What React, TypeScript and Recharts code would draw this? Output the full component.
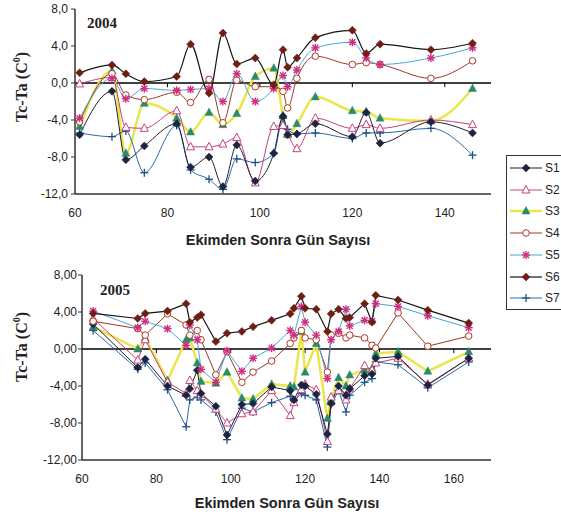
import { LineChart, Line, XAxis, YAxis, ReferenceLine } from 'recharts';

// 2004 season
const DAYS_2004 = [61, 68, 71, 75, 82, 85, 89, 92, 95, 99, 103, 105, 106, 108, 112, 120, 123, 126, 137, 146];
const S1_2004 = [-5.6, -0.9, -8.3, -6.8, -4.4, -9.1, -8.0, -11.2, -6.7, -10.6, -7.6, -3.6, -5.6, -5.5, -4.4, -5.8, -3.2, -6.5, -4.2, -5.4];
const S2_2004 = [-0.1, 0.6, -4.8, -4.9, -3.0, -6.9, -6.9, -6.6, -5.9, -10.8, -4.7, -4.6, -5.5, -7.1, -3.8, -4.9, -4.5, -4.9, -4.0, -4.5];
const S3_2004 = [-4.7, 1.3, -7.6, -2.2, -3.8, -5.3, -3.2, -4.5, -3.3, 0.7, 1.6, -3.5, -5.6, -4.4, -1.5, -3.0, -3.1, -3.8, -4.1, -0.6];
const S4_2004 = [-4.2, 1.0, -1.3, -1.8, -1.0, -2.1, 0.4, -4.3, 0.3, -0.4, -0.4, -0.9, -2.7, 0.5, 2.9, 2.0, 2.2, 2.0, 0.5, 2.4];
const S5_2004 = [-3.8, 0.5, -1.7, -0.6, -0.8, -0.7, -0.6, -2.0, 1.0, -2.0, -0.6, 0.8, -0.4, 1.4, 3.8, 4.4, 2.7, 2.0, 2.7, 3.8];
const S6_2004 = [1.1, 1.95, 1.0, 0.15, 0.7, 4.2, -1.1, 5.4, 2.05, 2.7, -0.2, 3.6, 1.7, 2.7, 4.9, 5.7, 3.2, 4.2, 3.6, 4.3];
const S7_2004 = [-5.4, -5.8, -5.2, -9.7, -4.6, -9.4, -10.4, -11.5, -8.2, -8.6, -7.6, -3.8, -5.0, -5.5, -5.4, -6.0, -5.4, -5.4, -4.9, -7.8];

// 2005 season
const DAYS_2005 = [63, 75, 77, 83, 88, 89, 91, 92, 96, 99, 103, 106, 111, 116, 117, 119, 120, 123, 126, 127, 129, 131, 132, 136, 138, 139, 145, 153, 164];
const S1_2005 = [2.7, -2.0, -1.1, -4.0, -5.0, -4.3, -2.3, -4.8, -6.2, -9.3, -6.0, -5.9, -4.1, -4.5, -5.5, -3.9, -4.0, -4.9, -9.2, -5.9, -4.0, -5.0, -4.3, -2.9, -2.7, -1.0, -0.8, -3.9, -1.0];
const S2_2005 = [3.3, -1.2, 1.0, -3.6, -4.8, -3.4, -4.5, -4.9, -6.5, -8.0, -7.0, -6.8, -4.5, -7.2, -5.8, -4.4, -3.8, -4.4, -10.0, -5.2, -4.5, -5.5, -4.3, -1.8, -2.3, -1.5, -1.0, -3.8, -1.0];
const S3_2005 = [2.4, 0.0, 1.2, -3.4, 1.0, 1.2, -1.5, -3.5, -3.7, -2.5, -5.3, -5.4, -3.8, -4.0, -4.1, 1.9, -2.5, 0.6, -7.5, -5.5, -3.1, -4.0, -2.8, -2.3, -2.1, -0.5, -0.3, -2.4, -0.3];
const S4_2005 = [3.0, 2.2, 1.5, 3.8, 2.6, 1.5, 2.0, 1.0, -2.8, -0.3, -3.6, -2.5, -1.3, 0.6, 1.2, 2.0, 1.2, 1.0, -2.5, 1.5, 1.7, 1.2, 1.5, 1.2, 0.4, 0.1, 3.9, 0.3, 1.4];
const S5_2005 = [4.1, 2.3, 3.0, 2.2, 0.4, 2.6, 1.0, -2.2, -3.6, -0.2, -2.4, -1.0, 0.1, 2.0, 1.5, 4.6, 2.9, 1.5, -3.2, 1.0, 1.9, 4.3, 2.5, 3.1, 3.0, 4.9, 4.6, 3.6, 2.3];
const S6_2005 = [3.85, 3.3, 3.85, 4.1, 4.9, 2.9, 3.4, 3.7, 0.8, 1.7, 1.9, 2.4, 3.1, 3.8, 4.4, 5.7, 4.4, 4.3, 1.9, 3.8, 4.3, 3.3, 3.4, 4.9, 2.9, 5.8, 5.3, 4.2, 2.8];
const S7_2005 = [2.0, -2.2, -1.5, -4.4, -8.4, -5.5, -5.2, -5.5, -6.8, -9.8, -6.4, -6.8, -5.8, -5.1, -5.6, -4.8, -5.0, -5.5, -10.6, -6.0, -4.5, -6.8, -5.0, -3.6, -3.2, -1.4, -1.7, -4.2, -1.4];

const Y_TICKS = [-12, -8, -4, 0, 4, 8];
const X_TICKS_2004 = [60, 80, 100, 120, 140];
const X_TICKS_2005 = [60, 80, 100, 120, 140, 160];

type Shape = 'diamond' | 'triangleOpen' | 'triangle' | 'circleOpen' | 'star' | 'plus';

const STYLES: { key: string; line: string; width: number; shape: Shape; mark: string }[] = [
  { key: 'S3', line: '#e8e64a', width: 2.5, shape: 'triangle', mark: '#2a8a6a' },
  { key: 'S7', line: '#2a6aa8', width: 1, shape: 'plus', mark: '#1f4f8a' },
  { key: 'S2', line: '#c8407a', width: 1, shape: 'triangleOpen', mark: '#c8407a' },
  { key: 'S1', line: '#1e1e2e', width: 1, shape: 'diamond', mark: '#1d2440' },
  { key: 'S4', line: '#9a3a22', width: 1, shape: 'circleOpen', mark: '#b03a24' },
  { key: 'S5', line: '#4aa6d8', width: 1, shape: 'star', mark: '#d02a80' },
  { key: 'S6', line: '#151515', width: 1.2, shape: 'diamond', mark: '#6e1e12' },
];

const LEGEND_ORDER = ['S1', 'S2', 'S3', 'S4', 'S5', 'S6', 'S7'];

function Marker({ shape, x, y, color }: { shape: Shape; x: number; y: number; color: string }) {
  switch (shape) {
    case 'diamond':
      return <polygon points={`${x},${y - 4} ${x + 4},${y} ${x},${y + 4} ${x - 4},${y}`} fill={color} stroke={color} strokeWidth={0.5} />;
    case 'triangle':
      return <polygon points={`${x},${y - 4.5} ${x + 4},${y + 3} ${x - 4},${y + 3}`} fill={color} stroke={color} strokeWidth={0.5} />;
    case 'triangleOpen':
      return <polygon points={`${x},${y - 4.5} ${x + 4},${y + 3} ${x - 4},${y + 3}`} fill="#fff" stroke={color} strokeWidth={1} />;
    case 'circleOpen':
      return <circle cx={x} cy={y} r={3.3} fill="#fff" stroke={color} strokeWidth={1} />;
    case 'star':
      return (
        <g stroke={color} strokeWidth={1.4}>
          <line x1={x - 4} y1={y} x2={x + 4} y2={y} />
          <line x1={x} y1={y - 4} x2={x} y2={y + 4} />
          <line x1={x - 3} y1={y - 3} x2={x + 3} y2={y + 3} />
          <line x1={x - 3} y1={y + 3} x2={x + 3} y2={y - 3} />
        </g>
      );
    default:
      return (
        <g stroke={color} strokeWidth={1.3}>
          <line x1={x - 4} y1={y} x2={x + 4} y2={y} />
          <line x1={x} y1={y - 4} x2={x} y2={y + 4} />
        </g>
      );
  }
}

function makeDot(shape: Shape, color: string) {
  return (p: any) => {
    if (p.cx == null || p.cy == null || p.value == null) return <g key={`d${p.index}`} />;
    return (
      <g key={`d${p.index}`}>
        <Marker shape={shape} x={p.cx} y={p.cy} color={color} />
      </g>
    );
  };
}

interface PanelProps {
  days: number[];
  series: Record<string, number[]>;
  domain: [number, number];
  ticks: number[];
  decimals: number;
  yWidth: number;
  tickMargin: number;
  curve: 'monotone' | 'linear';
}

function Panel({ days, series, domain, ticks, decimals, yWidth, tickMargin, curve }: PanelProps) {
  const data = days.map((day, i) => {
    const row: Record<string, number> = { day };
    Object.keys(series).forEach((k) => {
      row[k] = series[k][i];
    });
    return row;
  });
  const tickFont = { fontSize: 12, fill: '#222', fontFamily: 'Liberation Sans, Arial, sans-serif' };

  return (
    <LineChart width={500} height={230} data={data} margin={{ top: 9, right: 9, bottom: 6, left: 0 }}>
      <XAxis
        dataKey="day"
        type="number"
        domain={domain}
        ticks={ticks}
        allowDataOverflow
        tickLine={false}
        tickMargin={8}
        axisLine={{ stroke: '#333', strokeWidth: 1.5 }}
        tick={tickFont}
        height={30}
      />
      <XAxis xAxisId="top" orientation="top" dataKey="day" type="number" domain={domain} height={0} tick={false} tickLine={false} axisLine={{ stroke: '#333', strokeWidth: 1.5 }} />
      <YAxis
        domain={[-12, 8]}
        ticks={Y_TICKS}
        allowDataOverflow
        width={yWidth}
        tickSize={4}
        tickMargin={tickMargin}
        tickLine={{ stroke: '#333' }}
        axisLine={{ stroke: '#333', strokeWidth: 1.5 }}
        tick={tickFont}
        tickFormatter={(v: number) => v.toFixed(decimals).replace('.', ',')}
      />
      <YAxis yAxisId="right" orientation="right" domain={[-12, 8]} width={0} tick={false} tickLine={false} axisLine={{ stroke: '#333', strokeWidth: 1.5 }} />
      <ReferenceLine y={0} stroke="#000" strokeWidth={1.5} />
      {ticks.slice(1).map((t) => (
        <ReferenceLine key={t} segment={[{ x: t, y: 0 }, { x: t, y: -0.45 }]} stroke="#000" />
      ))}
      {STYLES.map((s) => (
        <Line
          key={s.key}
          dataKey={s.key}
          type={curve}
          stroke={s.line}
          strokeWidth={s.width}
          dot={makeDot(s.shape, s.mark)}
          activeDot={false}
          isAnimationActive={false}
        />
      ))}
    </LineChart>
  );
}

const titleFont = 'Liberation Sans, Arial, sans-serif';
const serifFont = 'Liberation Serif, Times New Roman, serif';

function YTitle({ top }: { top: number }) {
  return (
    <div
      style={{
        position: 'absolute',
        left: 21,
        top,
        transform: 'translate(-50%, -50%) rotate(-90deg)',
        whiteSpace: 'nowrap',
        fontFamily: serifFont,
        fontWeight: 'bold',
        fontSize: 16,
        color: '#222',
      }}
    >
      Tc-Ta (C<sup style={{ fontSize: 10 }}>0</sup>)
    </div>
  );
}

function XTitle({ top, center }: { top: number; center: number }) {
  return (
    <div
      style={{
        position: 'absolute',
        left: center,
        top,
        transform: 'translateX(-50%)',
        whiteSpace: 'nowrap',
        fontFamily: titleFont,
        fontWeight: 'bold',
        fontSize: 14.5,
        color: '#222',
      }}
    >
      Ekimden Sonra Gün Sayısı
    </div>
  );
}

function LegendBox() {
  return (
    <div
      style={{
        position: 'absolute',
        left: 506,
        top: 155,
        width: 60,
        height: 155,
        border: '1.5px solid #333',
        background: '#fff',
        boxSizing: 'border-box',
      }}
    >
      {LEGEND_ORDER.map((k, i) => {
        const s = STYLES.find((st) => st.key === k)!;
        return (
          <div key={k} style={{ position: 'absolute', left: 3, top: 5 + i * 21.7, height: 14, display: 'flex', alignItems: 'center' }}>
            <svg width={32} height={14}>
              <line x1={0} y1={7} x2={32} y2={7} stroke={s.line} strokeWidth={s.width} />
              <Marker shape={s.shape} x={16} y={7} color={s.mark} />
            </svg>
            <span style={{ fontFamily: titleFont, fontSize: 12, color: '#222', marginLeft: 3 }}>{k}</span>
          </div>
        );
      })}
    </div>
  );
}

export default function App() {
  const s2004 = { S1: S1_2004, S2: S2_2004, S3: S3_2004, S4: S4_2004, S5: S5_2004, S6: S6_2004, S7: S7_2004 };
  const s2005 = { S1: S1_2005, S2: S2_2005, S3: S3_2005, S4: S4_2005, S5: S5_2005, S6: S6_2005, S7: S7_2005 };

  return (
    <div style={{ position: 'absolute', left: 0, top: 0, width: 561, height: 517, background: '#fff', overflow: 'hidden' }}>
      <div style={{ position: 'absolute', left: 0, top: 0 }}>
        <Panel days={DAYS_2004} series={s2004} domain={[60, 150]} ticks={X_TICKS_2004} decimals={1} yWidth={75} tickMargin={3} curve="monotone" />
      </div>
      <div style={{ position: 'absolute', left: 0, top: 266 }}>
        <Panel days={DAYS_2005} series={s2005} domain={[60, 170]} ticks={X_TICKS_2005} decimals={2} yWidth={82} tickMargin={1} curve="linear" />
      </div>
      <div style={{ position: 'absolute', left: 87, top: 15, fontFamily: serifFont, fontWeight: 'bold', fontSize: 15, color: '#222' }}>2004</div>
      <div style={{ position: 'absolute', left: 100, top: 282, fontFamily: serifFont, fontWeight: 'bold', fontSize: 15, color: '#222' }}>2005</div>
      <YTitle top={87} />
      <YTitle top={347} />
      <XTitle top={232} center={278} />
      <XTitle top={495} center={287} />
      <LegendBox />
    </div>
  );
}
